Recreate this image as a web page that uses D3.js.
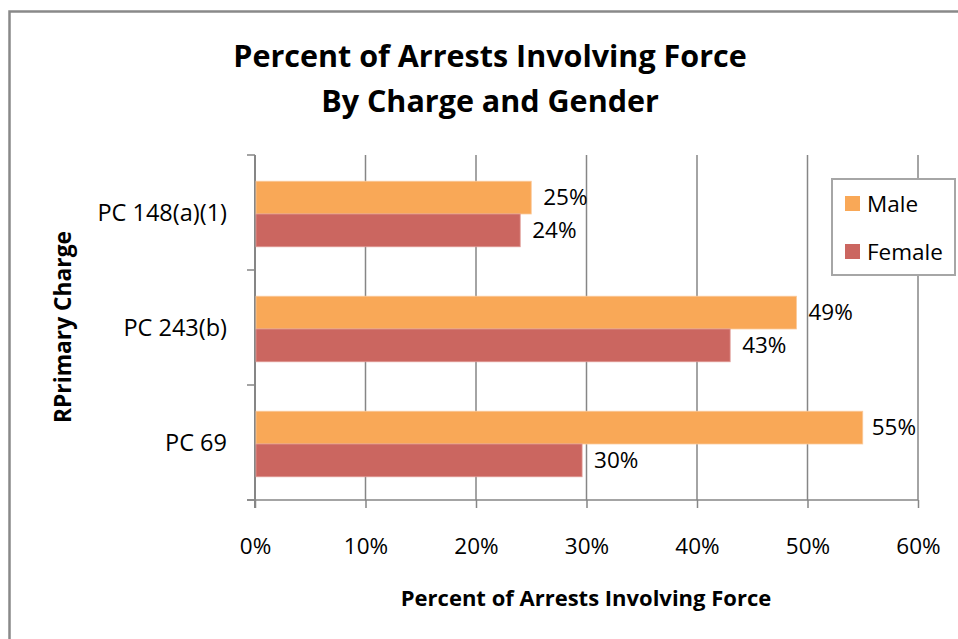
<!DOCTYPE html>
<html><head><meta charset="utf-8">
<script src="https://cdn.jsdelivr.net/npm/d3@7"></script>
<style>body{margin:0;background:#fff}svg{display:block}</style>
</head><body>
<svg id="c" width="958" height="639"></svg>
<script>
const categories = ["PC 148(a)(1)", "PC 243(b)", "PC 69"];
const seriesNames = ["Male", "Female"];
const maleValues = [0.25, 0.49, 0.55];
const femaleValues = [0.24, 0.43, 0.296];
const xTicks = [0, 0.1, 0.2, 0.3, 0.4, 0.5, 0.6];
const colors = ["#F9A857", "#CB6660"];
const titleLines = ["Percent of Arrests Involving Force", "By Charge and Gender"];
const xTitle = "Percent of Arrests Involving Force";
const yTitle = "RPrimary Charge";

const font = "'Open Sans', Lato, sans-serif";
const svg = d3.select("#c");
const L = 255, R = 918, T = 155, B = 500;
const axisCol = "#868686";

// outer border
svg.append("rect").attr("x", 9.5).attr("y", 11.5).attr("width", 1000).attr("height", 700)
  .attr("fill", "#fff").attr("stroke", "#898989").attr("stroke-width", 2.5);

const x = d3.scaleLinear().domain([0, 0.6]).range([L, R]);
const y0 = d3.scaleBand().domain(categories).range([T, B]).padding(0);
const bw = y0.bandwidth();
const y1 = d3.scaleBand().domain(seriesNames).range([bw * 0.228, bw * 0.798]).padding(0);

// gridlines
svg.append("g").selectAll("line").data(xTicks.slice(1)).join("line")
  .attr("x1", d => x(d)).attr("x2", d => x(d)).attr("y1", T).attr("y2", B)
  .attr("stroke", axisCol).attr("stroke-width", 1.5);

// x axis
const xAxis = d3.axisBottom(x).tickValues(xTicks).tickFormat(d3.format(".0%")).tickSize(8).tickPadding(30);
const gx = svg.append("g").attr("transform", `translate(0,${B})`).call(xAxis);
gx.select(".domain").attr("stroke", axisCol).attr("stroke-width", 1.5).attr("d", `M${L-8},0H${R}`);
gx.selectAll(".tick line").attr("stroke", axisCol).attr("stroke-width", 1.5);
gx.selectAll(".tick text").attr("font-family", font).attr("font-size", 22.5).attr("fill", "#000");

// y axis
const yTickPos = [T].concat(categories.map(c => y0(c) + bw));
svg.append("g").selectAll("line").data(yTickPos).join("line")
  .attr("x1", L - 8).attr("x2", L).attr("y1", d => d).attr("y2", d => d)
  .attr("stroke", axisCol).attr("stroke-width", 1.5);
svg.append("line").attr("x1", L).attr("x2", L).attr("y1", T).attr("y2", B + 8)
  .attr("stroke", axisCol).attr("stroke-width", 2);
svg.append("g").selectAll("text").data(categories).join("text")
  .attr("x", L - 28).attr("y", d => y0(d) + bw / 2).attr("dy", "0.35em")
  .attr("text-anchor", "end").attr("font-family", font).attr("font-size", 23.5).text(d => d);

// bars
const rows = categories.map((c, i) => ({ c, vals: [maleValues[i], femaleValues[i]] }));
const fmt = d3.format(".0%");
const gBars = svg.append("g");
rows.forEach(r => {
  r.vals.forEach((v, j) => {
    const yy = y0(r.c) + y1(seriesNames[j]);
    gBars.append("rect").attr("x", x(0) + 1).attr("y", yy).attr("width", x(v) - x(0) - 1)
      .attr("height", y1.bandwidth()).attr("fill", colors[j])
      .attr("stroke", j === 0 ? "#FBC99A" : "#E09A95").attr("stroke-width", 0.8);
    const t = gBars.append("text").attr("y", yy + y1.bandwidth() / 2).attr("dy", "0.35em")
      .attr("font-family", font).attr("font-size", 22.5).text(fmt(v));
    const w = t.node().getComputedTextLength();
    t.attr("x", Math.min(x(v) + 12, R - 2 - w));
  });
});

// legend
const lg = svg.append("g");
lg.append("rect").attr("x", 832).attr("y", 179).attr("width", 123).attr("height", 96)
  .attr("fill", "#fff").attr("stroke", "#A6A6A6").attr("stroke-width", 2);
seriesNames.forEach((s, i) => {
  const yy = 196 + i * 48;
  lg.append("rect").attr("x", 845).attr("y", yy).attr("width", 15).attr("height", 15).attr("fill", colors[i]);
  lg.append("text").attr("x", 867).attr("y", yy + 8).attr("dy", "0.35em")
    .attr("font-family", font).attr("font-size", 22.5).text(s);
});

// titles
svg.append("g").selectAll("text").data(titleLines).join("text")
  .attr("x", 490).attr("y", (d, i) => 56 + i * 45).attr("dy", "0.35em")
  .attr("text-anchor", "middle").attr("font-family", font).attr("font-weight", "bold")
  .attr("font-size", 30.5).text(d => d);
svg.append("text").attr("x", 586).attr("y", 598).attr("dy", "0.35em").attr("text-anchor", "middle")
  .attr("font-family", font).attr("font-weight", "bold").attr("font-size", 22).text(xTitle);
svg.append("text").attr("transform", "translate(63,327) rotate(-90)").attr("dy", "0.35em")
  .attr("text-anchor", "middle").attr("font-family", font).attr("font-weight", "bold")
  .attr("font-size", 22.8).text(yTitle);
</script>
</body></html>
